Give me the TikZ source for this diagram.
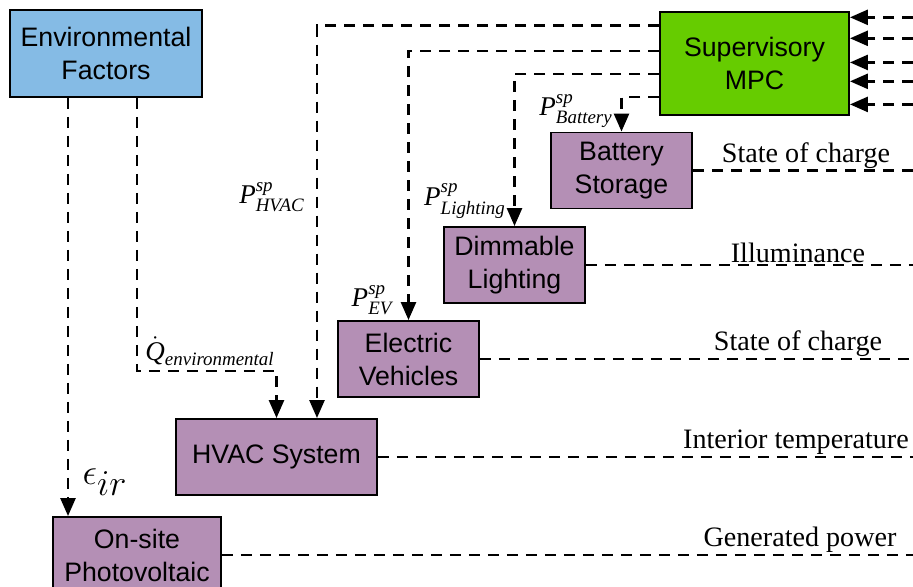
\documentclass[tikz,border=0pt]{standalone}
\usepackage{amsmath}
\usepackage{fontspec}
\setmainfont{Liberation Serif}
\newfontfamily\boxfont{Liberation Sans}
\definecolor{envblue}{RGB}{133,187,229}
\definecolor{mpcgreen}{RGB}{102,204,0}
\definecolor{plantpurple}{RGB}{180,143,181}
\usetikzlibrary{arrows.meta,calc}

\begin{document}
\begin{tikzpicture}[x=0.02cm,y=-0.02cm,
  block/.style={draw,line width=1.1pt,fill=plantpurple,align=center,inner sep=0pt,
    minimum width=2.82cm,minimum height=1.52cm,font=\boxfont\fontsize{15.2}{18.8}\selectfont},
  sig/.style={line width=1.5pt,dash pattern=on 0.22cm off 0.16cm},
  arr/.style={sig,-{Triangle[length=0.36cm,width=0.3cm]}},
  outlbl/.style={anchor=south,inner sep=1pt,font=\fontsize{16}{19}\selectfont},
  splbl/.style={inner sep=0pt,font=\fontsize{15.4}{18}\selectfont}
]
\useasboundingbox (0,0) rectangle (913,587);

% the blocks
\node[block,fill=envblue,minimum width=3.84cm,minimum height=1.74cm] (env) at (106,53.5) {Environmental\\Factors};
\node[block,fill=mpcgreen,minimum width=3.78cm,minimum height=2.06cm] (mpc) at (754.5,63.5) {Supervisory\\MPC};
\node[block] (bat) at (621.5,170.5) {Battery\\Storage};
\node[block] (dim) at (514.5,265) {Dimmable\\Lighting};
\node[block] (ev) at (408.5,359) {Electric\\Vehicles};
\node[block,minimum width=4.02cm] (hvac) at (276.5,457) {HVAC System};
\node[block,minimum width=3.36cm] (pv) at (137,555) {On-site\\Photovoltaic};

\coordinate (redge) at (913,0);

% the set points from the MPC
\draw[arr] ($(mpc.north west)!0.14!(mpc.south west)$) -| ([xshift=0.81cm]hvac.north);
\draw[arr] ($(mpc.north west)!0.38!(mpc.south west)$) -| (ev.north);
\draw[arr] ($(mpc.north west)!0.60!(mpc.south west)$) -| (dim.north);
\draw[arr] ($(mpc.north west)!0.82!(mpc.south west)$) -| (bat.north);

\node[splbl] (sphvac) at (272,197) {$\textit{P}^{\textit{sp}}_{\textit{HVAC}}$};
\node[splbl] (spev) at (372,300) {$\textit{P}^{\textit{sp}}_{\textit{EV}}$};
\node[splbl] (splight) at (465,201) {$\textit{P}^{\textit{sp}}_{\textit{Lighting}}$};
\node[splbl] (spbat) at (576,111) {$\textit{P}^{\textit{sp}}_{\textit{Battery}}$};

% the measurements fed back
\foreach \f in {0.06,0.26,0.49,0.67,0.89} {
    \path ($(mpc.north east)!\f!(mpc.south east)$) coordinate (fb);
    \draw[arr] (fb -| redge) -- (fb);
}

% the environmental inputs
\coordinate (eir) at ([xshift=-0.76cm]env.south);
\coordinate (eq) at ([xshift=0.62cm]env.south);
\draw[arr] (eir) -- (eir |- pv.north);
\draw[arr] (eq) |- ([yshift=0.94cm]hvac.north) -- (hvac.north);

\node[splbl] (qenv) at (210,351) {$\dot{\textit{Q}}_{\textit{environmental}}$};
\node[splbl,font=\fontsize{20}{24}\selectfont] (eps) at (105,482) {$\epsilon_{\mbox{$ir$}}$};

% the outputs
\foreach \b/\txt/\lx in {bat/{State of charge}/806,dim/Illuminance/798,ev/{State of charge}/798,hvac/{Interior temperature}/796,pv/{Generated power}/800} {
    \draw[sig] (\b.east) -- (\b.east -| redge);
    \node[outlbl] (l\b) at (\b.east -| \lx,0) {\txt};
}

\end{tikzpicture}
\end{document}
